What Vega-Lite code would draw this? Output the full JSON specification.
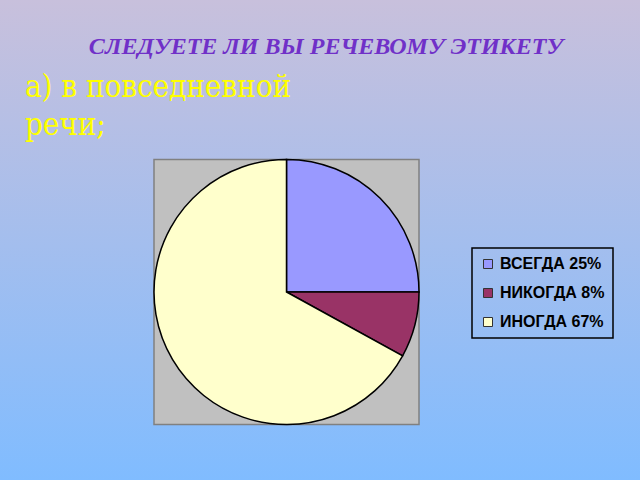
{
  "$schema": "https://vega.github.io/schema/vega-lite/v6.json",
  "width": 640,
  "height": 480,
  "autosize": "none",
  "padding": 0,
  "background": "#a8c0e8",
  "title": {
    "text": "СЛЕДУЕТЕ ЛИ ВЫ РЕЧЕВОМУ ЭТИКЕТУ",
    "anchor": "middle",
    "orient": "top",
    "baseline": "alphabetic",
    "offset": -78,
    "dx": 6,
    "font": "Liberation Serif",
    "fontSize": 24,
    "fontStyle": "italic",
    "fontWeight": "bold",
    "color": "#7030c8"
  },
  "layer": [
    {
      "data": {"values": [{}]},
      "mark": {
        "type": "rect",
        "color": {
          "gradient": "linear",
          "x1": 0, "y1": 0, "x2": 0, "y2": 1,
          "stops": [
            {"offset": 0, "color": "#c8c0dc"},
            {"offset": 1, "color": "#80bcff"}
          ]
        }
      },
      "encoding": {}
    },
    {
      "data": {"values": [{}]},
      "mark": {
        "type": "point",
        "shape": "square",
        "size": 70225,
        "filled": true,
        "fill": "#c0c0c0",
        "stroke": "#808080",
        "strokeWidth": 1.5,
        "opacity": 1,
        "xOffset": -33.5,
        "yOffset": 52
      },
      "encoding": {}
    },
    {
      "data": {
        "values": [
          {"answer": "ВСЕГДА 25%", "share": 25, "i": 1},
          {"answer": "НИКОГДА 8%", "share": 8, "i": 2},
          {"answer": "ИНОГДА 67%", "share": 67, "i": 3}
        ]
      },
      "mark": {
        "type": "arc",
        "radius": 132.5,
        "stroke": "#000000",
        "strokeWidth": 1.5,
        "xOffset": -33.5,
        "yOffset": 52
      },
      "encoding": {
        "theta": {"field": "share", "type": "quantitative", "stack": true},
        "order": {"field": "i", "type": "quantitative"},
        "color": {
          "field": "answer",
          "type": "nominal",
          "sort": null,
          "scale": {
            "domain": ["ВСЕГДА 25%", "НИКОГДА 8%", "ИНОГДА 67%"],
            "range": ["#9999ff", "#993366", "#ffffcc"]
          },
          "legend": {
            "orient": "none",
            "legendX": 472,
            "legendY": 248,
            "title": null,
            "strokeColor": "#000000",
            "padding": 8,
            "symbolType": "square",
            "symbolSize": 81,
            "symbolStrokeColor": "#333333",
            "symbolStrokeWidth": 1,
            "labelFont": "Liberation Sans",
            "labelFontWeight": "bold",
            "labelFontSize": 16,
            "labelColor": "#000000",
            "labelOffset": 4,
            "rowPadding": 13
          }
        }
      }
    },
    {
      "data": {"values": [{"caption": "а) в повседневной\nречи;"}]},
      "mark": {
        "type": "text",
        "x": 25,
        "y": 97,
        "align": "left",
        "baseline": "alphabetic",
        "lineBreak": "\n",
        "lineHeight": 38,
        "font": "DejaVu Serif Condensed",
        "fontSize": 31,
        "color": "#ffff00"
      },
      "encoding": {"text": {"field": "caption", "type": "nominal"}}
    }
  ],
  "config": {
    "view": {"stroke": null},
    "legend": {"strokeWidth": 1.5}
  }
}
